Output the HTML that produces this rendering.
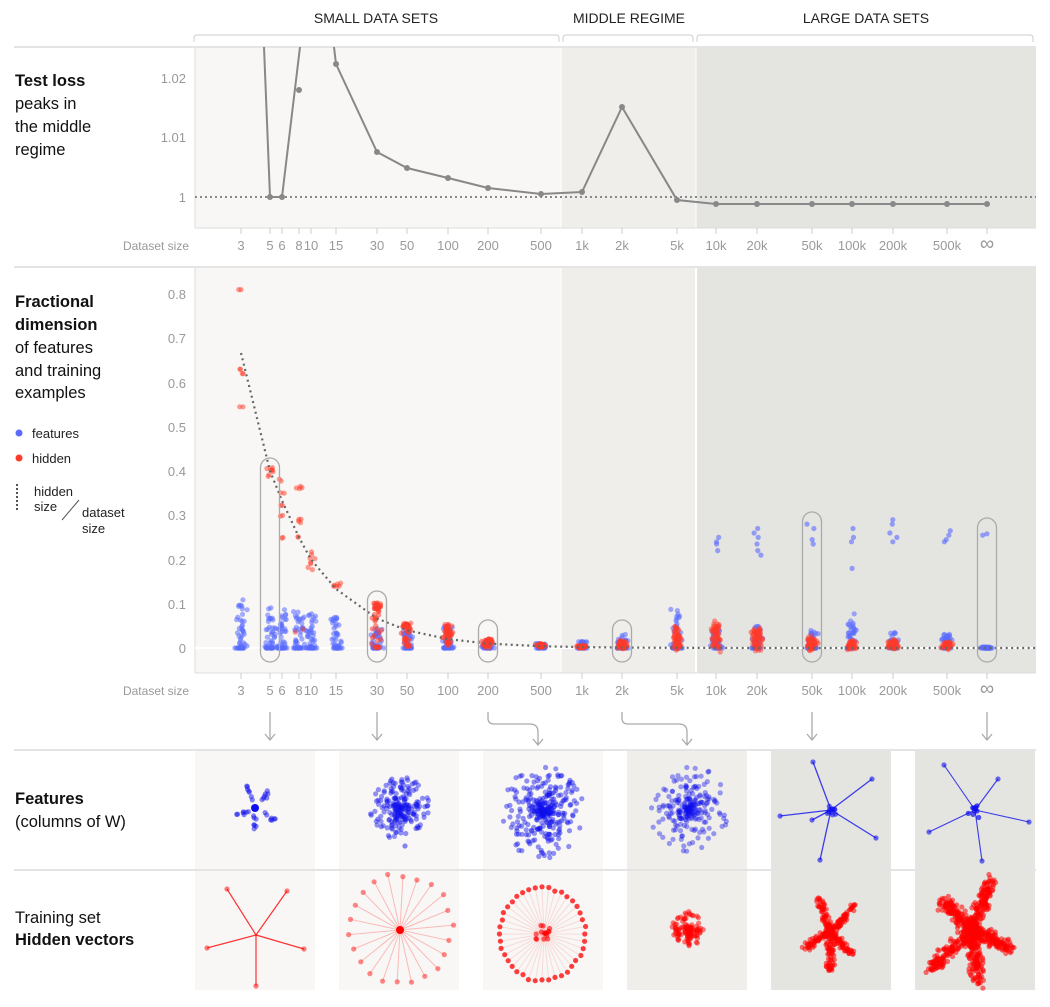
<!DOCTYPE html>
<html><head><meta charset="utf-8"><style>
body{margin:0;background:#fff;}
svg{display:block;font-family:"Liberation Sans",sans-serif;}
</style></head><body>
<svg id="s" width="1050" height="1007" viewBox="0 0 1050 1007" xmlns="http://www.w3.org/2000/svg">
<g font-size="14" fill="#222" text-anchor="middle">
<text x="376" y="23">SMALL DATA SETS</text>
<text x="629" y="23">MIDDLE REGIME</text>
<text x="866" y="23">LARGE DATA SETS</text>
</g>
<g fill="none" stroke="#ccc" stroke-width="1">
<path d="M194 42 v-4 q0-3 3-3 h359 q3 0 3 3 v4"/>
<path d="M563 42 v-4 q0-3 3-3 h124 q3 0 3 3 v4"/>
<path d="M697 42 v-4 q0-3 3-3 h330 q3 0 3 3 v4"/>
</g>
<rect x="195" y="48" width="366" height="180" fill="#f8f7f5"/>
<rect x="561" y="48" width="135" height="180" fill="#efeeeb"/>
<rect x="696" y="48" width="340" height="180" fill="#e4e4e0"/>
<rect x="195" y="268" width="366" height="405" fill="#f8f7f5"/>
<rect x="561" y="268" width="135" height="405" fill="#efeeeb"/>
<rect x="696" y="268" width="340" height="405" fill="#e4e4e0"/>
<line x1="561" y1="48" x2="561" y2="228" stroke="#fff"/>
<line x1="696" y1="48" x2="696" y2="228" stroke="#fff"/>
<line x1="561" y1="268" x2="561" y2="673" stroke="#fff"/>
<line x1="696" y1="268" x2="696" y2="673" stroke="#fff" stroke-width="2"/>
<line x1="14" y1="47" x2="1036" y2="47" stroke="#e4e4e4" stroke-width="2"/>
<line x1="14" y1="267" x2="1036" y2="267" stroke="#e4e4e4" stroke-width="2"/>
<line x1="14" y1="750" x2="1036" y2="750" stroke="#e4e4e4" stroke-width="2"/>
<line x1="14" y1="870" x2="1036" y2="870" stroke="#e4e4e4" stroke-width="2"/>
<line x1="195" y1="48" x2="195" y2="228" stroke="#ddd"/>
<line x1="195" y1="228" x2="1036" y2="228" stroke="#ddd"/>
<line x1="195" y1="268" x2="195" y2="673" stroke="#ddd"/>
<line x1="195" y1="673" x2="1036" y2="673" stroke="#ddd"/>
<line x1="195" y1="648" x2="1036" y2="648" stroke="#fff" stroke-width="2"/>
<g id="ticks"></g>
<g font-size="13" fill="#999" text-anchor="end">
<text x="186" y="83">1.02</text><text x="186" y="142">1.01</text><text x="186" y="202">1</text>
<text x="186" y="299">0.8</text><text x="186" y="343">0.7</text><text x="186" y="388">0.6</text>
<text x="186" y="432">0.5</text><text x="186" y="476">0.4</text><text x="186" y="520">0.3</text>
<text x="186" y="565">0.2</text><text x="186" y="609">0.1</text><text x="186" y="653">0</text>
</g>
<line x1="195" y1="197" x2="1036" y2="197" stroke="#888" stroke-width="2" stroke-dasharray="2,3"/>
<g font-size="16.5" fill="#111">
<text x="15" y="86" font-weight="bold">Test loss</text>
<text x="15" y="109">peaks in</text><text x="15" y="132">the middle</text><text x="15" y="155">regime</text>
<text x="15" y="307" font-weight="bold">Fractional</text>
<text x="15" y="330" font-weight="bold">dimension</text>
<text x="15" y="353">of features</text><text x="15" y="376">and training</text><text x="15" y="398">examples</text>
<text x="15" y="804" font-weight="bold">Features</text>
<text x="15" y="827">(columns of W)</text>
<text x="15" y="923">Training set</text>
<text x="15" y="945" font-weight="bold">Hidden vectors</text>
</g>
<g font-size="13" fill="#222">
<circle cx="19" cy="433" r="3.5" fill="#5a6bff"/><text x="32" y="438">features</text>
<circle cx="19" cy="458" r="3.5" fill="#ff3b2a"/><text x="32" y="463">hidden</text>
<line x1="17" y1="484" x2="17" y2="511" stroke="#555" stroke-width="2" stroke-dasharray="2,2"/>
<text x="34" y="496">hidden</text><text x="34" y="511">size</text>
<line x1="62" y1="520" x2="79" y2="500" stroke="#555"/>
<text x="82" y="517">dataset</text><text x="82" y="533">size</text>
</g>
<g id="plot"></g>
<g id="panels"></g>
</svg>
<script>
var NS="http://www.w3.org/2000/svg";
function el(p,t,a){var e=document.createElementNS(NS,t);for(var k in a)e.setAttribute(k,a[k]);p.appendChild(e);return e;}
var seed=7;function R(){seed=(seed*16807)%2147483647;return seed/2147483647;}
function G(){return (R()+R()+R()-1.5)/0.5;}
var ticks=[["3",241],["5",270],["6",282],["8",299],["10",311],["15",336],["30",377],["50",407],["100",448],["200",488],["500",541],["1k",582],["2k",622],["5k",677],["10k",716],["20k",757],["50k",812],["100k",852],["200k",893],["500k",947],["∞",987]];
var tg=document.getElementById("ticks");
ticks.forEach(function(t){
 el(tg,"line",{x1:t[1],y1:228,x2:t[1],y2:234,stroke:"#ccc"});
 el(tg,"line",{x1:t[1],y1:673,x2:t[1],y2:679,stroke:"#ccc"});
 [250,695].forEach(function(y){var tx=el(tg,"text",{x:t[1],y:y,"font-size":t[0]=="∞"?20:13,fill:"#999","text-anchor":"middle"});tx.textContent=t[0];});
});
[250,695].forEach(function(y){var tx=el(tg,"text",{x:189,y:y,"font-size":12,fill:"#999","text-anchor":"end"});tx.textContent="Dataset size";});
var pg=document.getElementById("plot");
var X=ticks.map(function(t){return t[1]});
var tv=[null,197,197,90,null,64,152,168,178,188,194,192,107,200,204,204,204,204,204,204,204];
el(pg,"polyline",{points:"264,47 270,197 282,197 300,47",fill:"none",stroke:"#888","stroke-width":2});
var pts="334,47 ";for(var i=5;i<X.length;i++)pts+=X[i]+","+tv[i]+" ";
el(pg,"polyline",{points:pts,fill:"none",stroke:"#888","stroke-width":2});
for(var i=1;i<X.length;i++)if(tv[i]!=null)el(pg,"circle",{cx:X[i],cy:tv[i],r:3,fill:"#888"});
function Y(v){return 648-v*442.5;}
var dots=[];
var spec=[[0.11,[0.81,0.63,0.62,0.545],0],[0.095,[0.41,0.405,0.4,0.39],0.01],[0.09,[0.38,0.35,0.32,0.3,0.25],0.01],[0.085,[0.36,0.365,0.29,0.28,0.25,0.04],0.01],[0.08,[0.21,0.2,0.19,0.18],0.01],[0.075,[0.145,0.14,0.14],0.003],[0.045,[0.1,0.095,0.093,0.09,0.002],0.003],[0.04,[0.055,0.05,0.05,0.005],0.005],[0.05,[0.05,0.04,0.035,0.03,0.01],0.01],[0.02,[0.02,0.015,0.01,0.005],0.008],[0.01,[0.008,0.005,0.003],0.004],[0.015,[0.005,0.003,0.001],0.003],[0.032,[0.015,0.01,0.005,0],0.008],[0.1,[0.04,0.03,0.02,0.01,0],0.02],[0.04,[0.05,0.04,0.03,0.02,0],0.02],[0.05,[0.04,0.03,0.02,0.01,0],0.015],[0.04,[0.02,0.015,0.01,0.005,0],0.012],[0.08,[0.015,0.01,0.005,0],0.008],[0.035,[0.015,0.01,0.005,0],0.008],[0.033,[0.012,0.008,0.004,0],0.008],[0.0,[],0]];
var hi=[0,0,0,0,0,0,0,0,0,0,0,0,0,0,[0.25,0.24,0.235,0.22],[0.27,0.26,0.25,0.235,0.22,0.21],[0.28,0.27,0.245,0.235],[0.27,0.25,0.24,0.18],[0.29,0.28,0.26,0.25,0.24],[0.265,0.255,0.245,0.24],[0.258,0.255]];
for(var i=0;i<X.length;i++){
 var s=spec[i];
 for(var k=0;k<50;k++){var v=R()<0.35?0:Math.pow(R(),1.6)*s[0];dots.push([X[i]+G()*2.5,Y(v),"#5a6bff",0.55]);}
 if(hi[i])hi[i].forEach(function(v){dots.push([X[i]+G()*2,Y(v),"#5a6bff",0.6]);});
 if(i==X.length-1)for(var k=0;k<8;k++)dots.push([X[i]+G()*3,Y(0.002),"#5a6bff",0.7]);
}
for(var i=0;i<X.length-1;i++){var s=spec[i];
 s[1].forEach(function(v){for(var k=0;k<(i<6?2:6);k++)dots.push([X[i]+G()*2,Y(v+G()*s[2]*0.3),"#ff3b2a",0.5]);});
 if(i>=6)for(var k=0;k<25;k++){var lo=Math.min.apply(null,s[1]),h=Math.max.apply(null,s[1]);dots.push([X[i]+G()*2.5,Y(lo+R()*(h-lo)),"#ff3b2a",0.55]);}
}
dots.forEach(function(d){el(pg,"circle",{cx:d[0].toFixed(1),cy:d[1].toFixed(1),r:2.6,fill:d[2],"fill-opacity":d[3]});});
var xs=[[3,241],[5,270],[6,282],[8,299],[10,311],[15,336],[30,377],[50,407],[100,448],[200,488],[500,541],[1000,582],[2000,622],[5000,677],[10000,716],[20000,757],[50000,812],[100000,852],[200000,893],[500000,947],[1e7,1036]];
var cp="";xs.forEach(function(p){cp+=p[1]+","+Y(2/p[0]).toFixed(1)+" ";});
el(pg,"polyline",{points:cp,fill:"none",stroke:"#666","stroke-width":2.2,"stroke-dasharray":"2,3.5"});
[[270,458,662],[377,591,662],[488,620,662],[622,620,662],[812,512,662],[987,518,662]].forEach(function(o){
 el(pg,"rect",{x:o[0]-9.5,y:o[1],width:19,height:o[2]-o[1],rx:9.5,fill:"none",stroke:"#aaa","stroke-width":1.3});});
function arr(x){el(pg,"path",{d:"M"+(x-5)+" 734 L"+x+" 740 L"+(x+5)+" 734",fill:"none",stroke:"#aaa","stroke-width":1.3});}
[270,377,812,987].forEach(function(x){el(pg,"line",{x1:x,y1:712,x2:x,y2:740,stroke:"#aaa","stroke-width":1.3});arr(x);});
[[488,538],[622,687]].forEach(function(a){el(pg,"path",{d:"M"+a[0]+" 712 v6 q0 6 6 6 h"+(a[1]-a[0]-14)+" q8 0 8 8 v12",fill:"none",stroke:"#aaa","stroke-width":1.3});
 el(pg,"path",{d:"M"+(a[1]-5)+" 739 L"+a[1]+" 745 L"+(a[1]+5)+" 739",fill:"none",stroke:"#aaa","stroke-width":1.3});});
var P=document.getElementById("panels");
var cols=[[195,"#f8f7f5"],[339,"#f8f7f5"],[483,"#f8f7f5"],[627,"#efeeeb"],[771,"#e4e4e0"],[915,"#e4e4e0"]];
cols.forEach(function(c){el(P,"rect",{x:c[0],y:751,width:120,height:118,fill:c[1]});el(P,"rect",{x:c[0],y:871,width:120,height:119,fill:c[1]});});
var B="#1010ee",Rd="#f00";
function dot(x,y,c,o,r){el(P,"circle",{cx:x.toFixed(1),cy:y.toFixed(1),r:r||2.6,fill:c,"fill-opacity":o});}
function ln(x1,y1,x2,y2,c,o,w){el(P,"line",{x1:x1,y1:y1,x2:x2,y2:y2,stroke:c,"stroke-opacity":o,"stroke-width":w||1});}
// col1 feature
var a5=[[-0.35,-0.9],[0.6,-0.7],[-0.9,0.4],[0.8,0.5],[0,1]];
a5.forEach(function(a){for(var k=0;k<7;k++){var t=0.3+R()*0.7;dot(255+a[0]*24*t+G(),808+a[1]*24*t+G(),B,0.5);}});
dot(255,808,B,1,4);
for(var k=0;k<200;k++){var r=Math.pow(R(),0.9)*30,t=R()*6.283;dot(400+Math.cos(t)*r,808+Math.sin(t)*r*1.05,B,0.45);}
dot(405,846,B,0.5);
for(var k=0;k<320;k++){var r=Math.pow(R(),1.3)*48,t=R()*6.283;dot(543+Math.cos(t)*r*0.85,812+Math.sin(t)*r,B,0.45);}
for(var k=0;k<240;k++){var r=Math.pow(R(),1.4)*45,t=R()*6.283;dot(688+Math.cos(t)*r*0.9,809+Math.sin(t)*r,B,0.4);}
[[813,762],[872,779],[780,816],[876,838],[820,860],[812,820]].forEach(function(p){ln(831,810,p[0],p[1],B,0.8,1.3);dot(p[0],p[1],B,0.6);});
for(var k=0;k<12;k++)dot(831+G()*3,810+G()*3,B,0.6);
[[944,765],[998,779],[929,832],[1029,822],[982,861]].forEach(function(p){ln(975,810,p[0],p[1],B,0.8,1.1);dot(p[0],p[1],B,0.6);});
for(var k=0;k<10;k++)dot(975+G()*3,810+G()*3,B,0.7);
// hidden
[[227,889],[287,891],[207,948],[304,949],[256,986]].forEach(function(p){ln(256,935,p[0],p[1],Rd,0.8,1.2);dot(p[0],p[1],Rd,0.5);});
for(var k=0;k<22;k++){var t=k/22*6.283+0.2,r=52+R()*6;var x=400+Math.cos(t)*r*0.95,y=930+Math.sin(t)*r;ln(400,930,x,y,Rd,0.25);dot(x,y,Rd,0.45);}
dot(400,930,Rd,1,4);
for(var k=0;k<40;k++){var t=k/40*6.283,r=45+R()*3;var x=542+Math.cos(t)*r*0.92,y=934+Math.sin(t)*r;ln(544,934,x,y,Rd,0.12);dot(x,y,Rd,0.75);}
for(var k=0;k<15;k++)dot(544+G()*4,934+G()*4,Rd,0.6);
for(var k=0;k<120;k++){var r=Math.pow(R(),0.9)*16,t=R()*6.283;dot(688+Math.cos(t)*r,929+Math.sin(t)*r*1.1,Rd,0.5);}
function star(cx,cy,arms,n,sp){arms.forEach(function(a){for(var k=0;k<n;k++){var t=R();dot(cx+a[0]*t+G()*sp,cy+a[1]*t+G()*sp,Rd,0.55);}});}
star(830,932,[[-10,-32],[24,-26],[-26,16],[22,22],[0,40]],60,2);
star(972,930,[[-28,-28],[18,-48],[-40,38],[38,18],[6,52]],140,3.5);
</script>
</body></html>
